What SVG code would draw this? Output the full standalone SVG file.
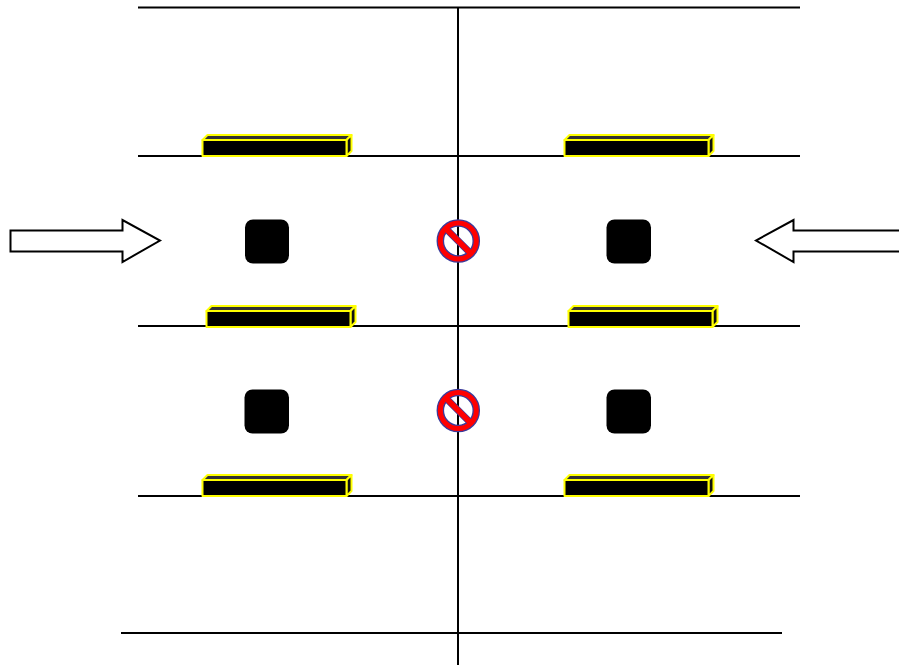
<svg xmlns="http://www.w3.org/2000/svg" width="899" height="665" viewBox="0 0 899 665">
<defs>
<style>
.ln{stroke:#000;stroke-width:2;fill:none}
.arrow{fill:#fff;stroke:#000;stroke-width:2;stroke-linejoin:miter}
.sq{fill:#000}
.bf{fill:#000;stroke:#ff0;stroke-width:2;stroke-linejoin:round}
.bt{fill:#333;stroke:#ff0;stroke-width:2;stroke-linejoin:round}
</style>
<g id="bench">
<path class="bt" d="M0 5L5 0H149L144 5Z"/>
<path class="bt" style="fill:#111" d="M144 5L149 0V16L144 21Z"/>
<rect class="bf" x="0" y="5" width="144" height="16"/>
</g>
<g id="no">
<circle r="20.500" fill="none" stroke="#3b3b9b" stroke-width="2.500"/>
<circle r="15.200" fill="none" stroke="#3b3b9b" stroke-width="2"/>
<path d="M-11.500 -11.500L11.500 11.500" stroke="#3b3b9b" stroke-width="7"/>
<circle r="18" fill="none" stroke="#f00" stroke-width="5"/>
<path d="M-12.500 -12.500L12.500 12.500" stroke="#f00" stroke-width="5.500"/>
</g>
</defs>
<g id="connectors">
<path class="ln" d="M138 7.500H800"/>
<path class="ln" d="M138 156H800"/>
<path class="ln" d="M138 326H800"/>
<path class="ln" d="M138 496H800"/>
<path class="ln" d="M121 633H782"/>
<path class="ln" d="M458 7V665"/>
</g>
<g id="arrow-left"><path class="arrow" d="M10.500 230.500H122.500V220L160 240.500L122.500 262V251.500H10.500Z"/></g>
<g id="arrow-right"><path class="arrow" d="M900 230.500H793.500V220L756 240.500L793.500 262V251.500H900"/></g>
<g id="post-1"><rect class="sq" x="245" y="219.500" width="44" height="44" rx="8"/></g>
<g id="post-2"><rect class="sq" x="606.500" y="219.500" width="44.500" height="44" rx="8"/></g>
<g id="post-3"><rect class="sq" x="244.500" y="389.500" width="44.500" height="44" rx="8"/></g>
<g id="post-4"><rect class="sq" x="606.500" y="389.500" width="44.500" height="44" rx="8"/></g>
<g id="bench-1"><use href="#bench" x="202.500" y="135"/></g>
<g id="bench-2"><use href="#bench" x="564.500" y="135"/></g>
<g id="bench-3"><use href="#bench" x="206.500" y="306"/></g>
<g id="bench-4"><use href="#bench" x="568.500" y="306"/></g>
<g id="bench-5"><use href="#bench" x="202.500" y="475"/></g>
<g id="bench-6"><use href="#bench" x="564.500" y="475"/></g>
<g id="no-1"><use href="#no" x="458.300" y="241"/></g>
<g id="no-2"><use href="#no" x="458.300" y="410.500"/></g>
</svg>
